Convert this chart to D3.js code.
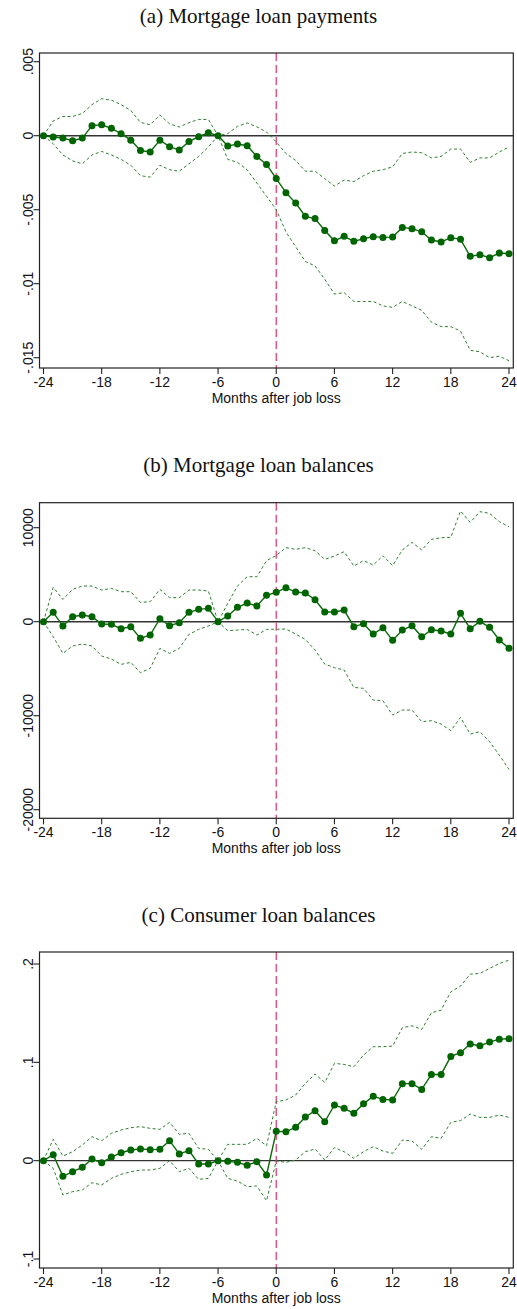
<!DOCTYPE html>
<html>
<head>
<meta charset="utf-8">
<script src="https://cdn.jsdelivr.net/npm/d3@7"></script>
<style>
  body { margin: 0; background: #fff; }
  text { font-family: "Liberation Sans", Arial, sans-serif; }
</style>
</head>
<body>
<script>
// months relative to job loss
let months = d3.range(-24, 25)
let xTicks = [-24, -18, -12, -6, 0, 6, 12, 18, 24]

// (a) Mortgage loan payments
let payEst = [0, -0.00009, -0.00016, -0.00034, -0.00016, 0.00068, 0.00074, 0.0005, 0.00014, -0.0003, -0.001, -0.0011, -0.0003, -0.00074, -0.00097, -0.0004, -0.00007, 0.0002, 0, -0.0007, -0.00056, -0.00068, -0.0014, -0.00194,
  -0.0029, -0.00385, -0.00455, -0.00545, -0.0056, -0.0064, -0.0071, -0.0068, -0.00714, -0.00696, -0.00682, -0.00687, -0.00685, -0.0062, -0.00628, -0.00649, -0.00705, -0.00718, -0.00689, -0.007, -0.00815, -0.00804, -0.00824, -0.00793, -0.00797]
let payHi = [0, 0.001, 0.0013, 0.0013, 0.0015, 0.0021, 0.0025, 0.0024, 0.0021, 0.0017, 0.0009, 0.00074, 0.0014, 0.0008, 0.00059, 0.00088, 0.0011, 0.0011, 0, 0.00014, 0.00063, 0.00086, 0.0006, 0.00025,
  -0.00043, -0.0012, -0.00167, -0.0024, -0.0024, -0.0029, -0.0034, -0.003, -0.0031, -0.0027, -0.0024, -0.0023, -0.0021, -0.0012, -0.0011, -0.00115, -0.0015, -0.0014, -0.0009, -0.0009, -0.0018, -0.0015, -0.0015, -0.0011, -0.00077]
let payLo = [0, -0.00054, -0.0013, -0.0017, -0.0019, -0.0013, -0.00106, -0.0013, -0.0016, -0.002, -0.0027, -0.0028, -0.002, -0.0023, -0.0024, -0.0019, -0.0014, -0.00077, 0, -0.0016, -0.0018, -0.0023, -0.0032, -0.0041,
  -0.005, -0.0065, -0.0075, -0.0085, -0.0088, -0.0097, -0.0107, -0.0106, -0.0112, -0.0112, -0.0112, -0.0115, -0.0116, -0.0112, -0.0115, -0.0118, -0.0126, -0.0129, -0.0129, -0.0132, -0.0145, -0.0146, -0.015, -0.0149, -0.0152]
let payTicks = [0.005, 0, -0.005, -0.01, -0.015]
let payTickLabels = ['.005', '0', '-.005', '-.01', '-.015']

// (b) Mortgage loan balances
let balEst = [0, 993, -461, 532, 709, 532, -248, -284, -745, -532, -1773, -1418, 319, -426, -106, 993, 1312, 1418, 0, 603, 1525, 1986, 1667, 2802,
  3121, 3618, 3157, 3050, 2341, 1029, 1029, 1241, -532, -213, -1312, -638, -1986, -887, -426, -1596, -851, -993, -1312, 887, -745, 35, -603, -1950, -2837]
let balHi = [0, 3653, 2376, 3440, 3795, 3795, 3369, 3547, 3192, 3192, 2057, 2128, 3440, 2554, 2554, 3369, 3369, 3263, 0, 1950, 3795, 4788, 4788, 6490,
  7050, 7874, 7696, 7874, 7554, 6632, 6987, 7448, 5923, 6490, 6029, 7022, 5958, 7625, 8441, 7625, 8760, 8937, 8973, 11775, 10569, 11704, 11527, 10640, 10108]
let balLo = [0, -1596, -3369, -2589, -2376, -2589, -3653, -3972, -4540, -4327, -5426, -4965, -2837, -3369, -2837, -1348, -816, -461, 0, -958, -887, -816, -1418, -816,
  -800, -780, -1312, -1880, -3014, -4504, -4894, -5142, -6987, -7093, -8334, -8405, -9930, -9398, -9398, -10640, -10533, -10888, -11597, -10179, -11952, -11704, -12768, -14186, -15711]
let balTicks = [10000, 0, -10000, -20000]
let balTickLabels = ['10000', '0', '-10000', '-20000']

// (c) Consumer loan balances
let conEst = [0, 0.0061, -0.0159, -0.0112, -0.0068, 0.0017, -0.002, 0.0037, 0.0081, 0.0108, 0.0119, 0.0112, 0.0115, 0.0203, 0.0068, 0.0102, -0.0034, -0.0034, 0, -0.0007, -0.0017, -0.0047, -0.001, -0.0146,
  0.0298, 0.0295, 0.0339, 0.0444, 0.0508, 0.0396, 0.0566, 0.0532, 0.0481, 0.0579, 0.0654, 0.0623, 0.0617, 0.0783, 0.0783, 0.0725, 0.0877, 0.0877, 0.106, 0.1098, 0.1186, 0.1169, 0.1206, 0.1236, 0.124]
let conHi = [0, 0.0217, 0.0047, 0.0091, 0.0159, 0.0244, 0.0203, 0.0278, 0.0312, 0.0335, 0.0346, 0.0329, 0.0318, 0.039, 0.0268, 0.0278, 0.0125, 0.0115, 0, 0.0166, 0.0166, 0.0166, 0.0227, 0.0152,
  0.06, 0.0617, 0.0667, 0.0786, 0.0881, 0.0796, 0.0989, 0.0979, 0.0955, 0.1074, 0.1159, 0.1159, 0.1165, 0.1352, 0.1372, 0.1335, 0.1504, 0.1531, 0.1717, 0.1775, 0.1897, 0.1904, 0.1955, 0.2005, 0.2039]
let conLo = [0, -0.0078, -0.0349, -0.0315, -0.0298, -0.0224, -0.0247, -0.018, -0.0139, -0.0112, -0.0095, -0.0095, -0.0078, 0, -0.0112, -0.0078, -0.019, -0.018, 0, -0.018, -0.0207, -0.0264, -0.0257, -0.0407,
  -0.0003, -0.0017, 0.0007, 0.0091, 0.0119, 0.0007, 0.0132, 0.0091, 0.0024, 0.0091, 0.0142, 0.0098, 0.0075, 0.021, 0.02, 0.0115, 0.0244, 0.0227, 0.039, 0.0407, 0.0474, 0.044, 0.044, 0.0464, 0.044]
let conTicks = [0.2, 0.1, 0, -0.1]
let conTickLabels = ['.2', '.1', '0', '-.1']

let w = 517
let h = 1309
let frameL = 39.5, frameR = 513.3

let svg = d3.select('body').append('svg').attr('width', w).attr('height', h)

let x = d3.scaleLinear().domain([-24, 24]).range([43.5, 509])

let panels = [
  { title: '(a) Mortgage loan payments', est: payEst, hi: payHi, lo: payLo, ticks: payTicks, labels: payTickLabels,
    top: 53, bottom: 368, dom: [0.005, -0.015], rng: [61.7, 357.7] },
  { title: '(b) Mortgage loan balances', est: balEst, hi: balHi, lo: balLo, ticks: balTicks, labels: balTickLabels,
    top: 502.7, bottom: 818.3, dom: [10000, -20000], rng: [527.7, 809.7] },
  { title: '(c) Consumer loan balances', est: conEst, hi: conHi, lo: conLo, ticks: conTicks, labels: conTickLabels,
    top: 952, bottom: 1268, dom: [0.2, -0.1], rng: [964, 1259] }
]

panels.forEach(p => {
  let y = d3.scaleLinear().domain(p.dom).range(p.rng)
  let g = svg.append('g')

  g.append('text')
    .attr('x', w / 2).attr('y', p.top - 30.5)
    .attr('text-anchor', 'middle')
    .style('font-family', '"Liberation Serif", "Times New Roman", serif')
    .style('font-size', '21px')
    .attr('fill', '#111')
    .text(p.title)

  // zero line
  g.append('line')
    .attr('x1', frameL).attr('x2', frameR)
    .attr('y1', y(0)).attr('y2', y(0))
    .attr('stroke', '#333').attr('stroke-width', 1.4)

  // job loss marker
  g.append('line')
    .attr('x1', x(0)).attr('x2', x(0))
    .attr('y1', p.top).attr('y2', p.bottom)
    .attr('stroke', '#e3406f').attr('stroke-width', 1.3)
    .attr('stroke-dasharray', '8,4')

  let line = arr => d3.line().x((d, i) => x(months[i])).y(d => y(d))(arr)

  ;[p.hi, p.lo].forEach(arr => {
    g.append('path')
      .attr('d', line(arr))
      .attr('fill', 'none')
      .attr('stroke', '#2f7f2f').attr('stroke-width', 1)
      .attr('stroke-dasharray', '3,2.5')
  })

  g.append('path')
    .attr('d', line(p.est))
    .attr('fill', 'none')
    .attr('stroke', '#0a6a0a').attr('stroke-width', 1.4)

  g.selectAll('circle')
    .data(p.est)
    .enter()
    .append('circle')
    .attr('cx', (d, i) => x(months[i]))
    .attr('cy', d => y(d))
    .attr('r', 3.5)
    .attr('fill', '#006400')

  // frame
  g.append('rect')
    .attr('x', frameL).attr('y', p.top)
    .attr('width', frameR - frameL).attr('height', p.bottom - p.top)
    .attr('fill', 'none').attr('stroke', '#222').attr('stroke-width', 1.2)

  // y axis ticks
  p.ticks.forEach((t, i) => {
    g.append('line')
      .attr('x1', frameL - 6).attr('x2', frameL)
      .attr('y1', y(t)).attr('y2', y(t))
      .attr('stroke', '#222').attr('stroke-width', 1.1)
    g.append('text')
      .attr('transform', 'translate(33,' + y(t) + ') rotate(-90)')
      .attr('text-anchor', 'middle')
      .style('font-size', '14px')
      .attr('fill', '#111')
      .text(p.labels[i])
  })

  // x axis ticks
  xTicks.forEach(t => {
    g.append('line')
      .attr('x1', x(t)).attr('x2', x(t))
      .attr('y1', p.bottom).attr('y2', p.bottom + 6)
      .attr('stroke', '#222').attr('stroke-width', 1.1)
    g.append('text')
      .attr('x', x(t)).attr('y', p.bottom + 18.7)
      .attr('text-anchor', 'middle')
      .style('font-size', '14px')
      .attr('fill', '#111')
      .text(t)
  })

  g.append('text')
    .attr('x', x(0)).attr('y', p.bottom + 35)
    .attr('text-anchor', 'middle')
    .style('font-size', '14px')
    .attr('fill', '#111')
    .text('Months after job loss')
})
</script>
</body>
</html>
